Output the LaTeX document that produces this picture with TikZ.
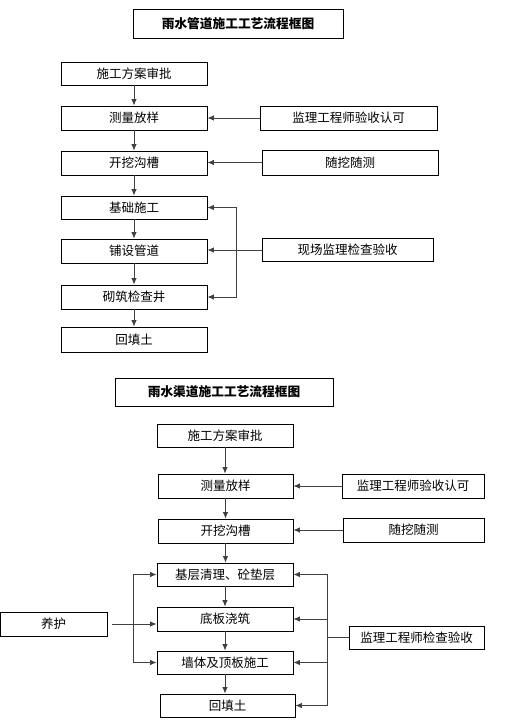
\documentclass[tikz,border=0pt]{standalone}
\usepackage{fontspec}
\usepackage{tikz}
\usetikzlibrary{arrows.meta}
\newfontfamily\cjk{Noto Sans CJK SC}
\tikzset{
  box/.style={draw, line width=0.8pt, inner sep=0pt, font=\cjk\fontsize{12.5}{14}\selectfont},
  title/.style={box, font=\cjk\bfseries\fontsize{12.7}{14}\selectfont},
  arr/.style={draw=black!75, line width=0.9pt, -{Latex[length=6.5pt,width=5.5pt]}},
  line/.style={draw=black!75, line width=0.9pt}
}

\begin{document}
\begin{tikzpicture}[x=1pt,y=-1pt]
            \useasboundingbox (0,0) rectangle (517,728);
            % upper chart
            \node[title, minimum width=210, minimum height=29] (t1) at (238, 23.5) {雨水管道施工工艺流程框图};
            \node[box, minimum width=146, minimum height=23] (a1) at (134, 73.5) {施工方案审批};
            \node[box, minimum width=146, minimum height=24] (a2) at (134, 118) {测量放样};
            \node[box, minimum width=146, minimum height=24] (a3) at (134, 163) {开挖沟槽};
            \node[box, minimum width=146, minimum height=23] (a4) at (134, 207.5) {基础施工};
            \node[box, minimum width=146, minimum height=24] (a5) at (134, 251) {铺设管道};
            \node[box, minimum width=146, minimum height=24] (a6) at (134, 297) {砌筑检查井};
            \node[box, minimum width=146, minimum height=25] (a7) at (134, 339.5) {回填土};
            \node[box, minimum width=177, minimum height=24] (b1) at (348.5, 118) {监理工程师验收认可};
            \node[box, minimum width=176, minimum height=25] (b2) at (350, 162.5) {随挖随测};
            \node[box, minimum width=171, minimum height=23] (b3) at (347.5, 250) {现场监理检查验收};
            \coordinate (v1) at (236, 0);
            \foreach \i/\j in {1/2,2/3,3/4,4/5,5/6,6/7}
                \draw[arr] (a\i.south) -- (a\j.north);
            \draw[arr] (b1.west) -- (b1.west -| a2.east);
            \draw[arr] (b2.west) -- (b2.west -| a3.east);
            \draw[arr] (b3.west) -- (b3.west -| a5.east);
            \draw[arr] (v1 |- b3.west) |- (a4.east);
            \draw[arr] (v1 |- b3.west) |- (a6.east);
            % lower chart
            \node[title, minimum width=218, minimum height=28] (t2) at (224, 392) {雨水渠道施工工艺流程框图};
            \node[box, minimum width=136, minimum height=23] (c1) at (225, 435.5) {施工方案审批};
            \node[box, minimum width=135, minimum height=24] (c2) at (225.5, 486) {测量放样};
            \node[box, minimum width=135, minimum height=24] (c3) at (225.5, 531) {开挖沟槽};
            \node[box, minimum width=136, minimum height=23] (c4) at (225, 574.5) {基层清理、砼垫层};
            \node[box, minimum width=136, minimum height=24] (c5) at (225, 619) {底板浇筑};
            \node[box, minimum width=136, minimum height=23] (c6) at (225, 662.5) {墙体及顶板施工};
            \node[box, minimum width=135, minimum height=23] (c7) at (227.5, 705.5) {回填土};
            \node[box, minimum width=142, minimum height=24] (d1) at (413, 486) {监理工程师验收认可};
            \node[box, minimum width=141, minimum height=24] (d2) at (413.5, 530) {随挖随测};
            \node[box, minimum width=135, minimum height=23] (d3) at (416.5, 637.5) {监理工程师检查验收};
            \node[box, minimum width=107, minimum height=24] (e1) at (53.5, 624) {养护};
            \coordinate (v2) at (327, 0);
            \coordinate (v3) at (133, 0);
            \foreach \i/\j in {1/2,2/3,3/4,4/5,5/6,6/7}
                \draw[arr] (c\i.south) -- (c\i.south |- c\j.north);
            \draw[arr] (d1.west) -- (d1.west -| c2.east);
            \draw[arr] (d2.west) -- (d2.west -| c3.east);
            \draw[line] (d3.west) -- (v2 |- d3.west);
            \foreach \k in {4,5,6,7}
                \draw[arr] (v2 |- d3.west) |- (c\k.east);
            \draw[arr, shorten <=5pt] (e1.east) -- (e1.east -| c5.west);
            \draw[arr] (v3 |- e1.east) |- (c4.west);
            \draw[arr] (v3 |- e1.east) |- (c6.west);
        \end{tikzpicture}
\end{document}
